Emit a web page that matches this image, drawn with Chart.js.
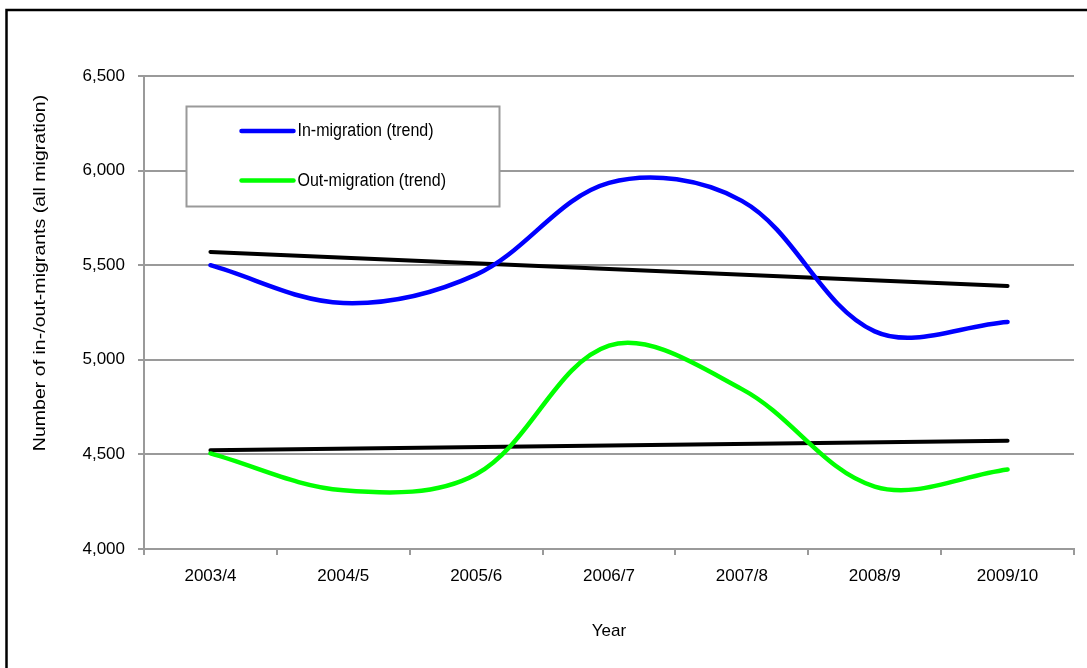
<!DOCTYPE html>
<html>
<head>
<meta charset="utf-8">
<script src="https://cdn.jsdelivr.net/npm/chart.js@4/dist/chart.umd.min.js"></script>
<style>
  html, body { margin: 0; padding: 0; background: #ffffff; }
  #wrap { width: 1087px; height: 668px; position: relative; }
</style>
</head>
<body>
<div id="wrap"><canvas id="chart" width="1087" height="668"></canvas></div>
<script>
// Academic years on the category axis
const years = ['2003/4', '2004/5', '2005/6', '2006/7', '2007/8', '2008/9', '2009/10'];

// Smoothed migration trends
const inMigration  = [5500, 5300, 5450, 5935, 5840, 5150, 5200];
const outMigration = [4505, 4310, 4395, 5075, 4845, 4330, 4420];

// Linear trend lines (end points only, joined straight)
const inLinear  = [5570, null, null, null, null, null, 5390];
const outLinear = [4522, null, null, null, null, null, 4572];

// Value axis ticks
const yTicks = [4000, 4500, 5000, 5500, 6000, 6500];

const FONT = "'Liberation Sans', Arial, sans-serif";
const GRID = '#9a9a9a';
const STRETCH = 1.15;

// White page with the black frame on the top and left edges
const framePlugin = {
  id: 'frame',
  beforeDraw(chart) {
    const ctx = chart.ctx;
    ctx.save();
    ctx.fillStyle = '#ffffff';
    ctx.fillRect(0, 0, chart.width, chart.height);
    ctx.strokeStyle = '#000000';
    ctx.lineWidth = 2.5;
    ctx.beginPath();
    ctx.moveTo(6.5, chart.height);
    ctx.lineTo(6.5, 10);
    ctx.lineTo(chart.width, 10);
    ctx.stroke();
    ctx.restore();
  }
};

// Boxed legend inside the plot, listing the two smoothed series
const boxLegendPlugin = {
  id: 'boxLegend',
  afterDatasetsDraw(chart) {
    const ctx = chart.ctx;
    const area = chart.chartArea;
    const x = area.left + 42.5, y = area.top + 30.5, w = 313, h = 100;
    ctx.save();
    ctx.fillStyle = '#ffffff';
    ctx.fillRect(x, y, w, h);
    ctx.strokeStyle = GRID;
    ctx.lineWidth = 2;
    ctx.strokeRect(x, y, w, h);
    const rows = [y + 24.5, y + 74];
    chart.data.datasets.slice(0, 2).forEach((ds, i) => {
      const ry = rows[i];
      ctx.strokeStyle = ds.borderColor;
      ctx.lineWidth = 4.5;
      ctx.lineCap = 'round';
      ctx.beginPath();
      ctx.moveTo(x + 55, ry);
      ctx.lineTo(x + 107, ry);
      ctx.stroke();
      ctx.save();
      ctx.translate(x + 111, ry);
      ctx.scale(1, STRETCH);
      ctx.fillStyle = '#000000';
      ctx.font = '16px ' + FONT;
      ctx.textAlign = 'left';
      ctx.textBaseline = 'middle';
      ctx.fillText(ds.label, 0, 0);
      ctx.restore();
    });
    ctx.restore();
  }
};

// Rotated value-axis title
const yTitlePlugin = {
  id: 'yTitle',
  afterDraw(chart) {
    const ctx = chart.ctx;
    ctx.save();
    ctx.translate(40, 273);
    ctx.scale(1, STRETCH);
    ctx.rotate(-Math.PI / 2);
    ctx.fillStyle = '#000000';
    ctx.font = '17px ' + FONT;
    ctx.textAlign = 'center';
    ctx.textBaseline = 'middle';
    ctx.fillText('Number of in-/out-migrants (all migration)', 0, 0);
    ctx.restore();
  }
};

new Chart(document.getElementById('chart'), {
  type: 'line',
  data: {
    labels: years,
    datasets: [
      {
        label: 'In-migration (trend)',
        data: inMigration,
        borderColor: '#0000ff',
        borderWidth: 4.5,
        tension: 0.35,
        pointRadius: 0,
        borderCapStyle: 'round',
        fill: false
      },
      {
        label: 'Out-migration (trend)',
        data: outMigration,
        borderColor: '#00ff00',
        borderWidth: 4.5,
        tension: 0.35,
        pointRadius: 0,
        borderCapStyle: 'round',
        fill: false
      },
      {
        label: 'In-migration linear trend',
        data: inLinear,
        borderColor: '#000000',
        borderWidth: 4,
        tension: 0,
        spanGaps: true,
        pointRadius: 0,
        borderCapStyle: 'round',
        fill: false
      },
      {
        label: 'Out-migration linear trend',
        data: outLinear,
        borderColor: '#000000',
        borderWidth: 4,
        tension: 0,
        spanGaps: true,
        pointRadius: 0,
        borderCapStyle: 'round',
        fill: false
      }
    ]
  },
  options: {
    responsive: false,
    animation: false,
    devicePixelRatio: 1,
    layout: { padding: { top: 76, right: 13, left: 0, bottom: 22 } },
    plugins: {
      legend: { display: false },
      tooltip: { enabled: false },
      title: { display: false }
    },
    scales: {
      x: {
        type: 'category',
        offset: true,
        grid: {
          offset: true,
          drawOnChartArea: false,
          drawTicks: true,
          tickLength: 6,
          color: GRID,
          lineWidth: 2
        },
        border: { display: true, color: GRID, width: 2 },
        ticks: {
          color: '#000000',
          font: { family: FONT, size: 17 },
          padding: 11,
          maxRotation: 0,
          autoSkip: false
        },
        title: {
          display: true,
          text: 'Year',
          color: '#000000',
          font: { family: FONT, size: 17 },
          padding: { top: 4, bottom: 4 }
        },
        afterFit(scale) { scale.height = 97; }
      },
      y: {
        min: 4000,
        max: 6500,
        grid: {
          color: GRID,
          lineWidth: 2,
          drawTicks: true,
          tickLength: 6,
          tickColor: GRID
        },
        border: { display: true, color: GRID, width: 2 },
        ticks: {
          color: '#000000',
          font: { family: FONT, size: 17 },
          padding: 13,
          callback: (v) => Number(v).toLocaleString('en-US')
        },
        afterBuildTicks(scale) {
          scale.ticks = yTicks.map(v => ({ value: v }));
        },
        afterFit(scale) { scale.width = 144; }
      }
    }
  },
  plugins: [framePlugin, boxLegendPlugin, yTitlePlugin]
});
</script>
</body>
</html>
